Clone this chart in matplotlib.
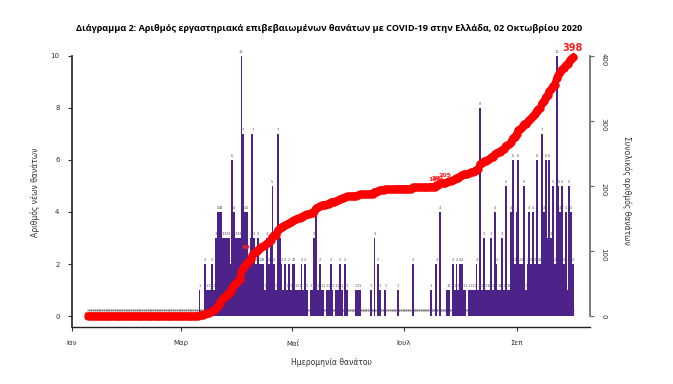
import pandas as pd
import matplotlib
matplotlib.use("Agg")
from matplotlib import pyplot as plt

# daily deaths, 10 Jan 2020 -> 02 Oct 2020
jan = [0, 0, 0, 0, 0, 0, 0, 0, 0, 0, 0, 0, 0, 0, 0, 0, 0, 0, 0, 0, 0, 0]
feb = [0, 0, 0, 0, 0, 0, 0, 0, 0, 0, 0, 0, 0, 0, 0, 0, 0, 0, 0, 0,
       0, 0, 0, 0, 0, 0, 0, 0, 0]
mar = [0, 0, 0, 0, 0, 0, 0, 0, 0, 0,
       1, 0, 0, 2, 1, 1, 1, 2, 1, 3, 4, 4, 4, 3, 3, 3, 3, 2, 6, 4, 3]
apr = [3, 3, 10, 7, 4, 4, 2, 3, 7, 3, 2, 3, 2, 2, 2, 1, 3, 2, 3, 5,
       2, 1, 7, 3, 2, 1, 2, 1, 2, 1]
may = [2, 2, 1, 1, 1, 2, 1, 2, 1, 0, 1, 1, 3, 4, 1, 2, 1, 1, 0, 1,
       1, 2, 1, 0, 1, 1, 2, 1, 0, 2, 1]
jun = [0, 0, 0, 0, 1, 1, 1, 0, 0, 0, 0, 0, 1, 0, 3, 0, 2, 1, 0, 0,
       1, 0, 0, 0, 0, 0, 0, 1, 0, 0]
jul = [0, 0, 0, 0, 0, 2, 0, 0, 0, 0, 0, 0, 0, 0, 0, 1, 0, 0, 2, 0,
       4, 0, 0, 0, 1, 1, 0, 2, 1, 2, 1]
aug = [2, 2, 1, 1, 0, 1, 1, 1, 1, 2, 1, 8, 1, 3, 1, 1, 1, 3, 1, 4,
       2, 1, 1, 3, 1, 5, 1, 1, 4, 6, 2]
sep = [4, 6, 2, 2, 5, 1, 2, 4, 2, 4, 2, 6, 2, 2, 7, 4, 6, 3, 6, 3,
       5, 2, 10, 5, 4, 5, 2, 4, 1, 5]
octo = [4, 2]

daily = jan + feb + mar + apr + may + jun + jul + aug + sep + octo
dates = pd.date_range("2020-01-10", periods=len(daily), freq="D")
cum = pd.Series(daily).cumsum().values

month_ticks = ["2020-01-01", "2020-03-01", "2020-05-01", "2020-07-01", "2020-09-01"]
month_labels = ["Ιαν", "Μαρ", "Μαΐ", "Ιουλ", "Σεπ"]

# days whose running total is written in red on the chart
lab_days = ["2020-07-18", "2020-07-20", "2020-07-24"]
lab_early = "2020-04-11"

title = "Διάγραμμα 2: Αριθμός εργαστηριακά επιβεβαιωμένων θανάτων με COVID-19 στην Ελλάδα, 02 Οκτωβρίου 2020"

plt.rcParams['font.family'] = ['DejaVu Sans']

fig = plt.figure(figsize=(6.73, 3.84), dpi=100)
ax = fig.add_axes([0.107, 0.1484, 0.7704, 0.7296])

# grey reference line near zero
ax.plot(dates, [0.22] * len(dates), color="#8a8a8a", lw=0.8, marker="x", ms=1.6, mew=0.4, zorder=1)
ax.bar(dates, daily, width=1.0, color="#4d2389", linewidth=0, zorder=2)

for d, v in zip(dates, daily):
    if v > 0:
        ax.text(d, v + 0.08, str(v), fontsize=2.6, ha="center", va="bottom", color="#555555")

ylo, yhi = -0.423, 10.35
ax.set_ylim(ylo, yhi)
ax.set_xlim(pd.Timestamp("2020-01-01"), pd.Timestamp("2020-10-11 14:00"))
ax.set_yticks([0, 2, 4, 6, 8, 10])
ax.set_xticks(pd.to_datetime(month_ticks))
ax.set_xticklabels(month_labels)
ax.tick_params(axis="both", labelsize=5, length=3, width=0.8, color="#333333", labelcolor="#333333", pad=6)
ax.spines["top"].set_visible(False)
ax.spines["right"].set_visible(False)
ax.spines["left"].set_bounds(ylo, 10)
ax.spines["left"].set_color("#222222")
ax.spines["bottom"].set_color("#222222")
ax.spines["left"].set_linewidth(1.2)
ax.spines["bottom"].set_linewidth(1.0)

ax2 = ax.twinx()
ax2.plot(dates, cum, color="#ff0000", lw=5, marker="o", ms=5, zorder=5)
ax2.set_ylim(ylo * 40, yhi * 40)
ax2.set_yticks([0, 100, 200, 300, 400])
ax2.tick_params(axis="y", labelsize=5, length=3, width=0.8, color="#666666", labelcolor="#333333",
                labelrotation=-90, pad=4)
for s in ["top", "left", "bottom"]:
    ax2.spines[s].set_visible(False)
ax2.spines["right"].set_bounds(0, 400)
ax2.spines["right"].set_color("#666666")
ax2.spines["right"].set_linewidth(1.2)

i = list(dates).index(pd.Timestamp(lab_early))
ax2.text(dates[i - 3], cum[i] + 3, str(cum[i]), color="#ff2020", fontsize=4.5, fontweight="bold",
         ha="right", va="bottom", zorder=6)
for ds in lab_days:
    i = list(dates).index(pd.Timestamp(ds))
    ax2.text(dates[i], cum[i] + 7, str(cum[i]), color="#ff2020", fontsize=4.5, fontweight="bold",
             ha="center", va="bottom", zorder=6)
ax2.text(dates[-1], cum[-1] + 7, str(cum[-1]), color="#ff2020", fontsize=7, fontweight="bold",
         ha="center", va="bottom", zorder=6)

fig.text(0.489, 0.927, title, ha="center", va="center", fontsize=6.6, fontweight="bold",
         family=["Open Sans", "DejaVu Sans"])
fig.text(0.492, 0.055, "Ημερομηνία θανάτου", ha="center", va="center", fontsize=5.5, color="#333333")
fig.text(0.052, 0.5, "Αριθμός νέων θανάτων", ha="center", va="center", rotation=90, fontsize=5.5, color="#333333")
fig.text(0.932, 0.505, "Συνολικός αριθμός θανάτων", ha="center", va="center", rotation=270, fontsize=5.5,
         color="#333333")

fig.savefig("out.png", dpi=100)
